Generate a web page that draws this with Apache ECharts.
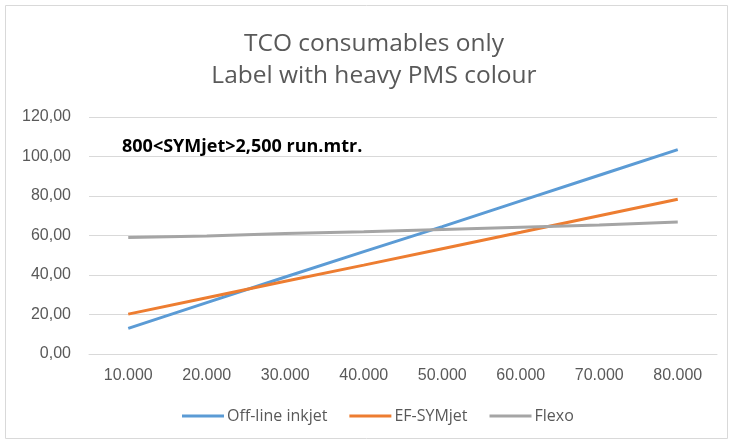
<!DOCTYPE html>
<html>
<head>
<meta charset="utf-8">
<script src="https://cdn.jsdelivr.net/npm/echarts@6/dist/echarts.min.js"></script>
<style>
  html, body {margin: 0; padding: 0; background: #fff;}
  #main {width: 730px; height: 444px;}
</style>
</head>
<body>
<div id="main"></div>
<script>
const categories = ['10.000', '20.000', '30.000', '40.000', '50.000', '60.000', '70.000', '80.000'];
const offlineInkjet = [13.0, 26.0, 39.0, 51.8, 64.5, 77.5, 90.5, 103.5];
const efSymjet = [20.2, 28.5, 36.8, 45.0, 53.3, 61.6, 70.0, 78.4];
const flexo = [59.0, 59.8, 61.0, 61.9, 63.1, 64.2, 65.3, 66.8];
const yTicks = {min: 0, max: 120, interval: 20};

const font = '"Open Sans", "Noto Sans", sans-serif';
const axisFont = '"Liberation Sans", Arial, sans-serif';
const chart = echarts.init(document.getElementById('main'));

const lineSeries = (name, data, color) => ({
    name,
    type: 'line',
    data,
    symbol: 'none',
    lineStyle: {width: 3, color},
    itemStyle: {color}
});

chart.setOption({
    animation: false,
    grid: {left: 89, right: 13, top: 117, bottom: 90},
    xAxis: {
        type: 'category',
        data: categories,
        boundaryGap: true,
        axisLine: {lineStyle: {color: '#d9d9d9'}},
        axisTick: {show: false},
        axisLabel: {color: '#595959', fontFamily: axisFont, fontSize: 16, margin: 14}
    },
    yAxis: {
        type: 'value',
        min: yTicks.min,
        max: yTicks.max,
        interval: yTicks.interval,
        axisLine: {show: false},
        axisTick: {show: false},
        splitLine: {lineStyle: {color: '#d9d9d9'}},
        axisLabel: {
            color: '#595959',
            fontFamily: axisFont,
            fontSize: 16,
            margin: 18,
            formatter: v => v.toFixed(2).replace('.', ',')
        }
    },
    legend: {
        bottom: 15,
        left: 177,
        itemWidth: 42,
        itemHeight: 3,
        itemGap: 22,
        icon: 'rect',
        textStyle: {color: '#595959', fontFamily: font, fontSize: 16, padding: [0, 0, 0, -2]},
        data: ['Off-line inkjet', 'EF-SYMjet', 'Flexo']
    },
    graphic: [{
        type: 'text',
        x: 374,
        y: 28,
        style: {
            text: 'TCO consumables only\nLabel with heavy PMS colour',
            fill: '#595959',
            font: '24.5px ' + font,
            lineHeight: 32,
            align: 'center'
        }
    }, {
        type: 'text',
        left: 122,
        top: 138,
        style: {
            text: '800<SYMjet>2,500 run.mtr.',
            fill: '#000',
            font: 'bold 18px ' + font
        }
    }, {
        type: 'rect',
        shape: {x: 5.5, y: 5.5, width: 722, height: 433},
        style: {fill: 'none', stroke: '#d9d9d9', lineWidth: 1},
        silent: true
    }],
    series: [
        lineSeries('Off-line inkjet', offlineInkjet, '#5b9bd5'),
        lineSeries('EF-SYMjet', efSymjet, '#ed7d31'),
        lineSeries('Flexo', flexo, '#a5a5a5')
    ]
});
</script>
</body>
</html>
